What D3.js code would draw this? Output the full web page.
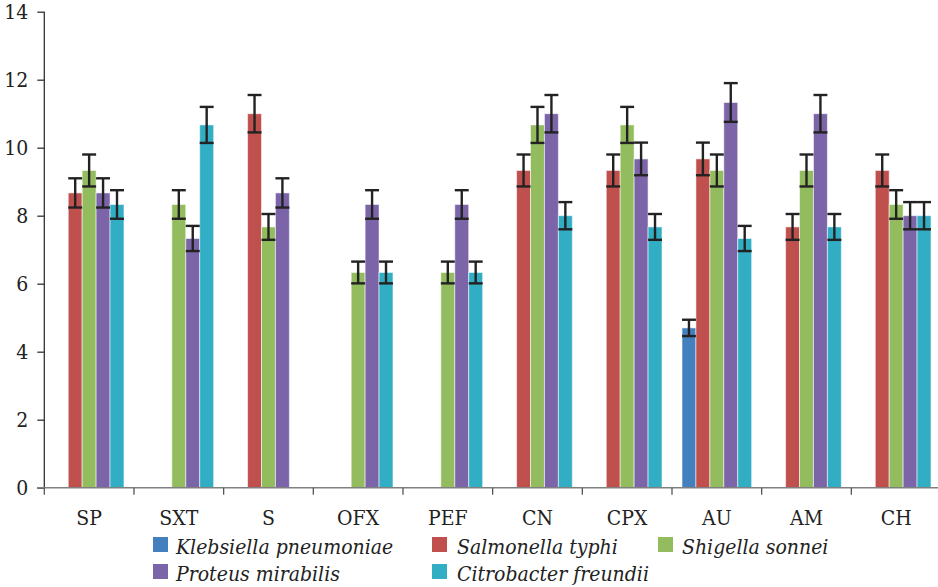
<!DOCTYPE html>
<html>
<head>
<meta charset="utf-8">
<script src="https://cdn.jsdelivr.net/npm/d3@7"></script>
<style>
  html, body { margin: 0; padding: 0; background: #fff; }
  svg { display: block; }
</style>
</head>
<body>
<svg id="chart" width="938" height="587"></svg>
<script>
const categories = ["SP", "SXT", "S", "OFX", "PEF", "CN", "CPX", "AU", "AM", "CH"];
const seriesNames = ["Klebsiella pneumoniae", "Salmonella typhi", "Shigella sonnei", "Proteus mirabilis", "Citrobacter freundii"];
const seriesColors = ["#4580be", "#c0504d", "#93bc5e", "#7b65a8", "#31adc4"];

const klebsiella  = [null, null, null, null, null, null, null, 4.7, null, null];
const salmonella  = [8.67, null, 11, null, null, 9.33, 9.33, 9.67, 7.67, 9.33];
const shigella    = [9.33, 8.33, 7.67, 6.33, 6.33, 10.67, 10.67, 9.33, 9.33, 8.33];
const proteus     = [8.67, 7.33, 8.67, 8.33, 8.33, 11, 9.67, 11.33, 11, 8];
const citrobacter = [8.33, 10.67, null, 6.33, 6.33, 8, 7.67, 7.33, 7.67, 8];

const klebsiellaErr  = [null, null, null, null, null, null, null, 0.24, null, null];
const salmonellaErr  = [0.43, null, 0.55, null, null, 0.47, 0.47, 0.48, 0.38, 0.47];
const shigellaErr    = [0.47, 0.42, 0.38, 0.32, 0.32, 0.53, 0.53, 0.47, 0.47, 0.42];
const proteusErr     = [0.43, 0.37, 0.43, 0.42, 0.42, 0.55, 0.48, 0.57, 0.55, 0.40];
const citrobacterErr = [0.42, 0.53, null, 0.32, 0.32, 0.40, 0.38, 0.37, 0.38, 0.40];

const yTicks = [0, 2, 4, 6, 8, 10, 12, 14];

const seriesValues = [klebsiella, salmonella, shigella, proteus, citrobacter];
const seriesErrors = [klebsiellaErr, salmonellaErr, shigellaErr, proteusErr, citrobacterErr];

const svg = d3.select("#chart");
const font = "'DejaVu Serif Condensed', 'DejaVu Serif', serif";

const x0 = d3.scaleBand().domain(categories).range([44.3, 941]).paddingInner(0).paddingOuter(0);
const groupW = x0.bandwidth() * 0.777;
const x1 = d3.scaleBand().domain(d3.range(seriesNames.length)).range([0, groupW]).padding(0);
const y = d3.scaleLinear().domain([0, 14]).range([487.7, 11.7]);

// bars
const data = [];
seriesValues.forEach((vals, s) => {
  vals.forEach((v, i) => {
    if (v != null) data.push({ s, cat: categories[i], v, e: seriesErrors[s][i] });
  });
});

const gBars = svg.append("g");
gBars.selectAll("rect").data(data).enter().append("rect")
  .attr("x", d => x0(d.cat) + (x0.bandwidth() - groupW) / 2 + x1(d.s))
  .attr("y", d => y(d.v))
  .attr("width", x1.bandwidth())
  .attr("height", d => y(0) - y(d.v))
  .attr("fill", d => seriesColors[d.s])
  .attr("stroke", "rgba(255,255,255,0.55)")
  .attr("stroke-width", 1);

// error bars
const gErr = svg.append("g").attr("stroke", "#222").attr("stroke-width", 2.4).attr("fill", "none");
data.forEach(d => {
  const cx = x0(d.cat) + (x0.bandwidth() - groupW) / 2 + x1(d.s) + x1.bandwidth() / 2;
  const hw = x1.bandwidth() / 2;
  const yt = y(d.v + d.e), yb = y(d.v - d.e);
  gErr.append("line").attr("x1", cx).attr("x2", cx).attr("y1", yt).attr("y2", yb);
  gErr.append("line").attr("x1", cx - hw).attr("x2", cx + hw).attr("y1", yt).attr("y2", yt);
  gErr.append("line").attr("x1", cx - hw).attr("x2", cx + hw).attr("y1", yb).attr("y2", yb);
});

// y axis
const yAxis = d3.axisLeft(y).tickValues(yTicks).tickSize(7).tickPadding(9).tickFormat(d3.format("d"));
const gy = svg.append("g").attr("transform", "translate(44.3,0)").call(yAxis);
gy.select(".domain").attr("stroke", "#333").attr("stroke-width", 1.3).attr("d", `M0,${y(14)}V${y(0)}`);
gy.selectAll(".tick line").attr("stroke", "#333").attr("stroke-width", 1.3);
gy.selectAll(".tick text").attr("font-family", font).attr("font-size", 21).attr("fill", "#222");

// x axis
const xAxis = d3.axisBottom(x0).tickSize(0).tickPadding(22);
const gx = svg.append("g").attr("transform", `translate(0,${y(0)})`).call(xAxis);
gx.select(".domain").remove();
gx.selectAll(".tick text").attr("font-family", font).attr("font-size", 21).attr("fill", "#222");
svg.append("line").attr("x1", 37).attr("x2", 938).attr("y1", y(0)).attr("y2", y(0))
  .attr("stroke", "#808080").attr("stroke-width", 1.6);
const boundaries = categories.map(c => x0(c));
svg.append("g").selectAll("line").data(boundaries).enter().append("line")
  .attr("x1", d => d).attr("x2", d => d).attr("y1", y(0)).attr("y2", y(0) + 7)
  .attr("stroke", "#555").attr("stroke-width", 1.3);

// legend
const legendPos = [
  { sx: 153, tx: 176, row: 0 },
  { sx: 432, tx: 457, row: 0 },
  { sx: 658, tx: 682, row: 0 },
  { sx: 153, tx: 176, row: 1 },
  { sx: 432, tx: 457, row: 1 }
];
const gLeg = svg.append("g");
seriesNames.forEach((name, i) => {
  const p = legendPos[i];
  const top = 537 + p.row * 27;
  gLeg.append("rect").attr("x", p.sx).attr("y", top).attr("width", 15).attr("height", 15)
    .attr("fill", seriesColors[i]);
  gLeg.append("text").attr("x", p.tx).attr("y", top + 17)
    .attr("font-family", font).attr("font-style", "italic").attr("font-size", 21)
    .attr("fill", "#222").text(name);
});
</script>
</body>
</html>
